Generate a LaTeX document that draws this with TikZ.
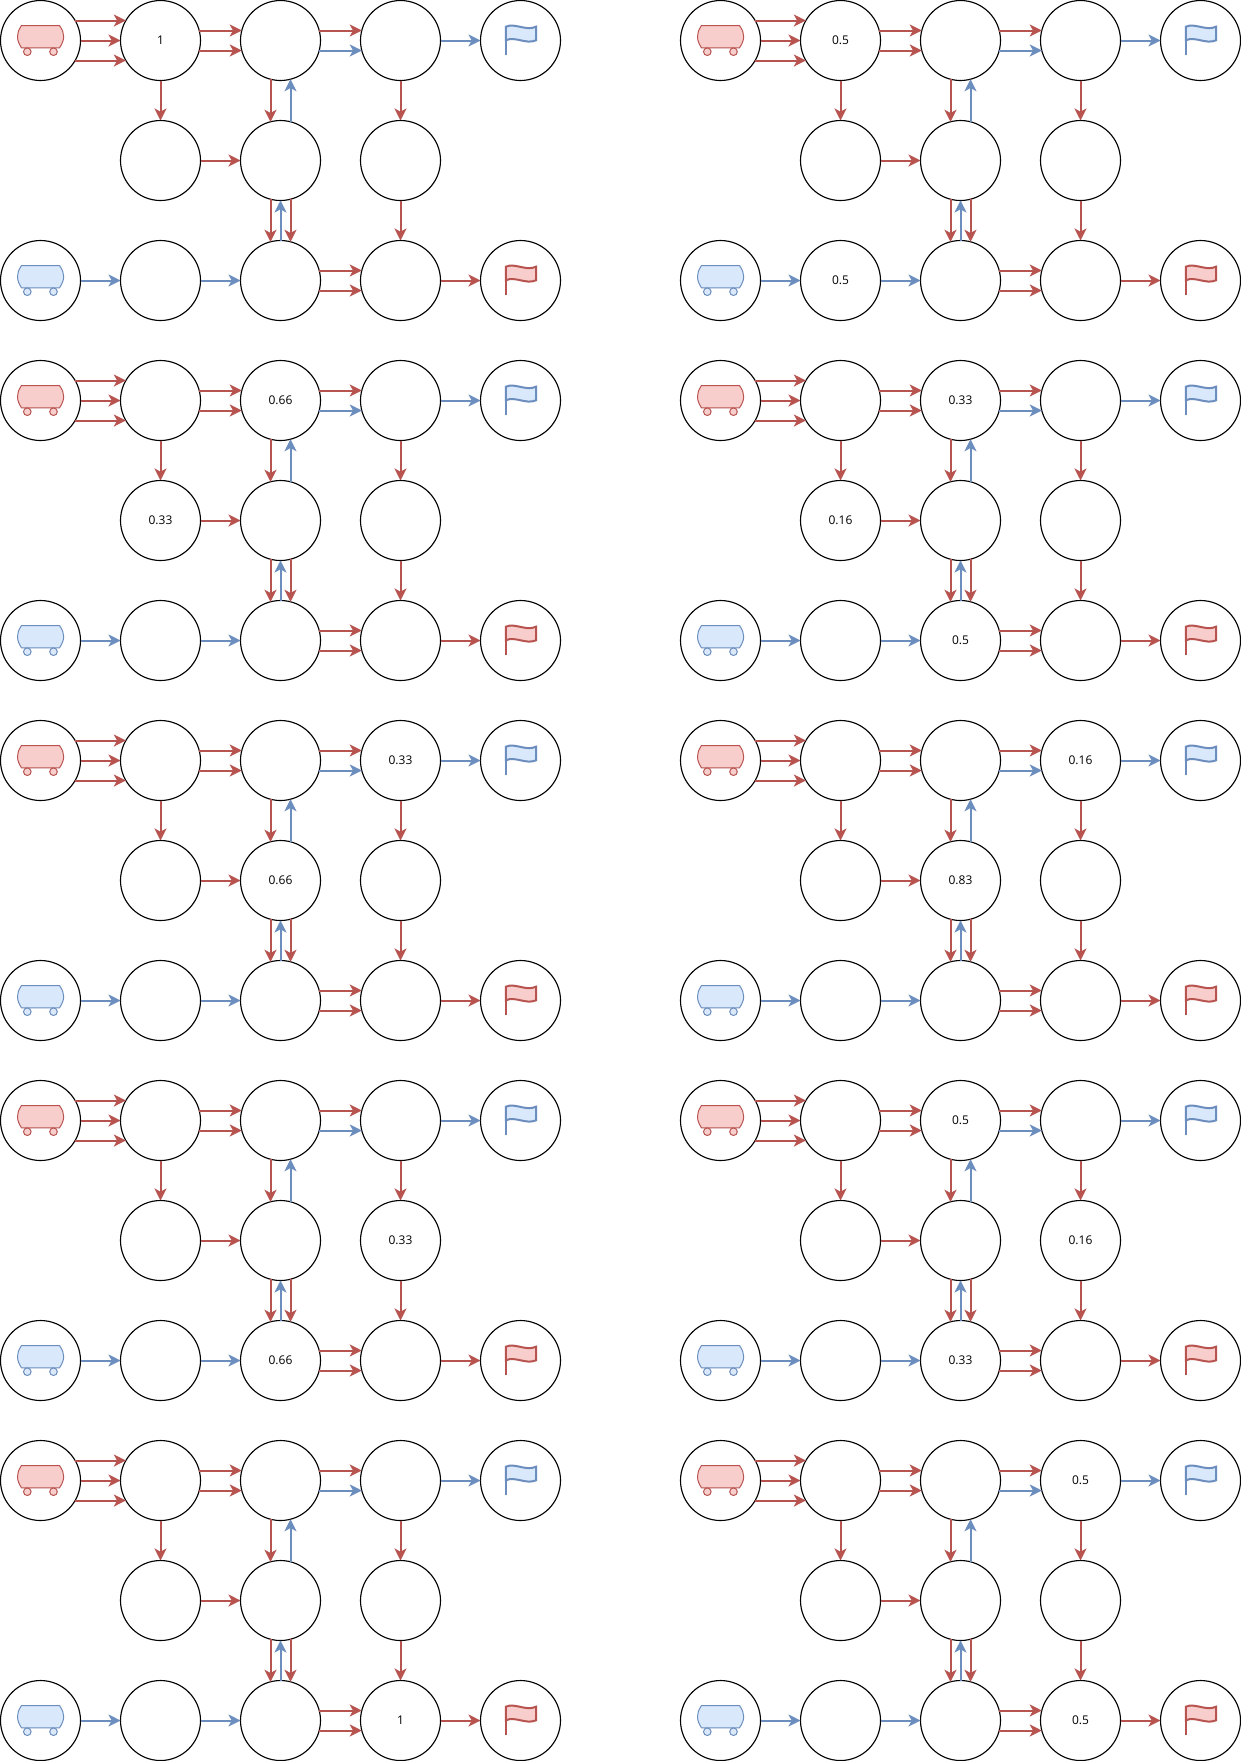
\documentclass[tikz,border=0pt]{standalone}
\usepackage{fontspec}
\setmainfont{Open Sans}
\usetikzlibrary{arrows.meta}
\definecolor{rl}{HTML}{B85450}
\definecolor{rf}{HTML}{F8CECC}
\definecolor{bl}{HTML}{6C8EBF}
\definecolor{bf}{HTML}{DAE8FC}
\tikzset{
  st/.style={circle,draw=black,fill=white,line width=0.85pt,minimum size=60pt,inner sep=0pt,outer sep=0pt,font=\fontsize{9}{11}\selectfont,text=black},
  con/.style={line width=1.5pt,-{Stealth[length=9pt,width=9pt,inset=2.4pt]}},
  rc/.style={con,draw=rl},
  bc/.style={con,draw=bl},
}
% connector between two named nodes, offset from their centres
\newcommand{\link}[5]{\draw[#1] ([shift={#3}]#2.center) -- ([shift={#5}]#4.center);}
\newcommand{\tanker}[3]{%
  \begin{scope}[shift={#1},draw=#2,fill=#3,line width=0.75pt]
    \filldraw (21.5,25.5) -- (59.5,25.5) .. controls (62.5,30) and (63.7,33) .. (63.7,36.5) .. controls (63.7,40.5) and (62,44) .. (59.5,47.8) -- (21.5,47.8) .. controls (19,44) and (17.5,40.5) .. (17.5,36.5) .. controls (17.5,33) and (18.5,30) .. (21.5,25.5) -- cycle;
    \filldraw (27.3,51.7) circle[radius=3.8];
    \filldraw (53.5,51.7) circle[radius=3.8];
  \end{scope}}
\newcommand{\flagicon}[3]{%
  \begin{scope}[shift={#1},draw=#2,fill=#3,line width=1.5pt]
    \filldraw (505.8,26.7) .. controls (515,22.5) and (526,31.5) .. (536,26.7) -- (536,40.3) .. controls (526,44.8) and (515,35.8) .. (505.8,40.3) -- cycle;
    \draw (505.8,26.7) -- (505.8,55);
  \end{scope}}
\newcommand{\panel}[3]{%
  \begin{scope}[shift={#2}]
    \pgfkeys{/lb/.cd,a/.initial={},b/.initial={},c/.initial={},d/.initial={},e/.initial={},f/.initial={},g/.initial={},h/.initial={},i/.initial={},#3}
    \node[st] (#1s) at (40.5,40.5) {};
    \node[st] (#1a) at (160.5,40.5) {\pgfkeysvalueof{/lb/a}};
    \node[st] (#1b) at (280.5,40.5) {\pgfkeysvalueof{/lb/b}};
    \node[st] (#1c) at (400.5,40.5) {\pgfkeysvalueof{/lb/c}};
    \node[st] (#1u) at (520.5,40.5) {};
    \node[st] (#1d) at (160.5,160.5) {\pgfkeysvalueof{/lb/d}};
    \node[st] (#1e) at (280.5,160.5) {\pgfkeysvalueof{/lb/e}};
    \node[st] (#1f) at (400.5,160.5) {\pgfkeysvalueof{/lb/f}};
    \node[st] (#1t) at (40.5,280.5) {};
    \node[st] (#1g) at (160.5,280.5) {\pgfkeysvalueof{/lb/g}};
    \node[st] (#1h) at (280.5,280.5) {\pgfkeysvalueof{/lb/h}};
    \node[st] (#1i) at (400.5,280.5) {\pgfkeysvalueof{/lb/i}};
    \node[st] (#1v) at (520.5,280.5) {};
    \tanker{(0,0)}{rl}{rf}
    \tanker{(0,240)}{bl}{bf}
    \flagicon{(0,0)}{bl}{bf}
    \flagicon{(0,240)}{rl}{rf}
    \link{rc}{#1s}{(34.64,-20)}{#1a}{(-34.64,-20)}
    \link{rc}{#1s}{(40,0)}{#1a}{(-40,0)}
    \link{rc}{#1s}{(34.64,20)}{#1a}{(-34.64,20)}
    \link{rc}{#1a}{(38.73,-10)}{#1b}{(-38.73,-10)}
    \link{rc}{#1a}{(38.73,10)}{#1b}{(-38.73,10)}
    \link{rc}{#1b}{(38.73,-10)}{#1c}{(-38.73,-10)}
    \link{bc}{#1b}{(38.73,10)}{#1c}{(-38.73,10)}
    \link{bc}{#1c}{(40,0)}{#1u}{(-40,0)}
    \link{rc}{#1a}{(0,40)}{#1d}{(0,-40)}
    \link{rc}{#1b}{(-10,38.73)}{#1e}{(-10,-38.73)}
    \link{bc}{#1e}{(10,-38.73)}{#1b}{(10,38.73)}
    \link{rc}{#1c}{(0,40)}{#1f}{(0,-40)}
    \link{rc}{#1d}{(40,0)}{#1e}{(-40,0)}
    \link{rc}{#1e}{(-10,38.73)}{#1h}{(-10,-38.73)}
    \link{bc}{#1h}{(0,-40)}{#1e}{(0,40)}
    \link{rc}{#1e}{(10,38.73)}{#1h}{(10,-38.73)}
    \link{rc}{#1f}{(0,40)}{#1i}{(0,-40)}
    \link{bc}{#1t}{(40,0)}{#1g}{(-40,0)}
    \link{bc}{#1g}{(40,0)}{#1h}{(-40,0)}
    \link{rc}{#1h}{(38.73,-10)}{#1i}{(-38.73,-10)}
    \link{rc}{#1h}{(38.73,10)}{#1i}{(-38.73,10)}
    \link{rc}{#1i}{(40,0)}{#1v}{(-40,0)}
  \end{scope}}
\begin{document}
\begin{tikzpicture}[x=0.75pt,y=-0.75pt]
  \useasboundingbox (0,0) rectangle (1241,1761);
  \fill[white] (0,0) rectangle (1241,1761);
  \panel{A}{(0,0)}{a=1}
  \panel{B}{(680,0)}{a=0.5,g=0.5}
  \panel{C}{(0,360)}{b=0.66,d=0.33}
  \panel{D}{(680,360)}{b=0.33,d=0.16,h=0.5}
  \panel{E}{(0,720)}{c=0.33,e=0.66}
  \panel{F}{(680,720)}{c=0.16,e=0.83}
  \panel{G}{(0,1080)}{f=0.33,h=0.66}
  \panel{H}{(680,1080)}{b=0.5,f=0.16,h=0.33}
  \panel{I}{(0,1440)}{i=1}
  \panel{J}{(680,1440)}{c=0.5,i=0.5}
\end{tikzpicture}
\end{document}
